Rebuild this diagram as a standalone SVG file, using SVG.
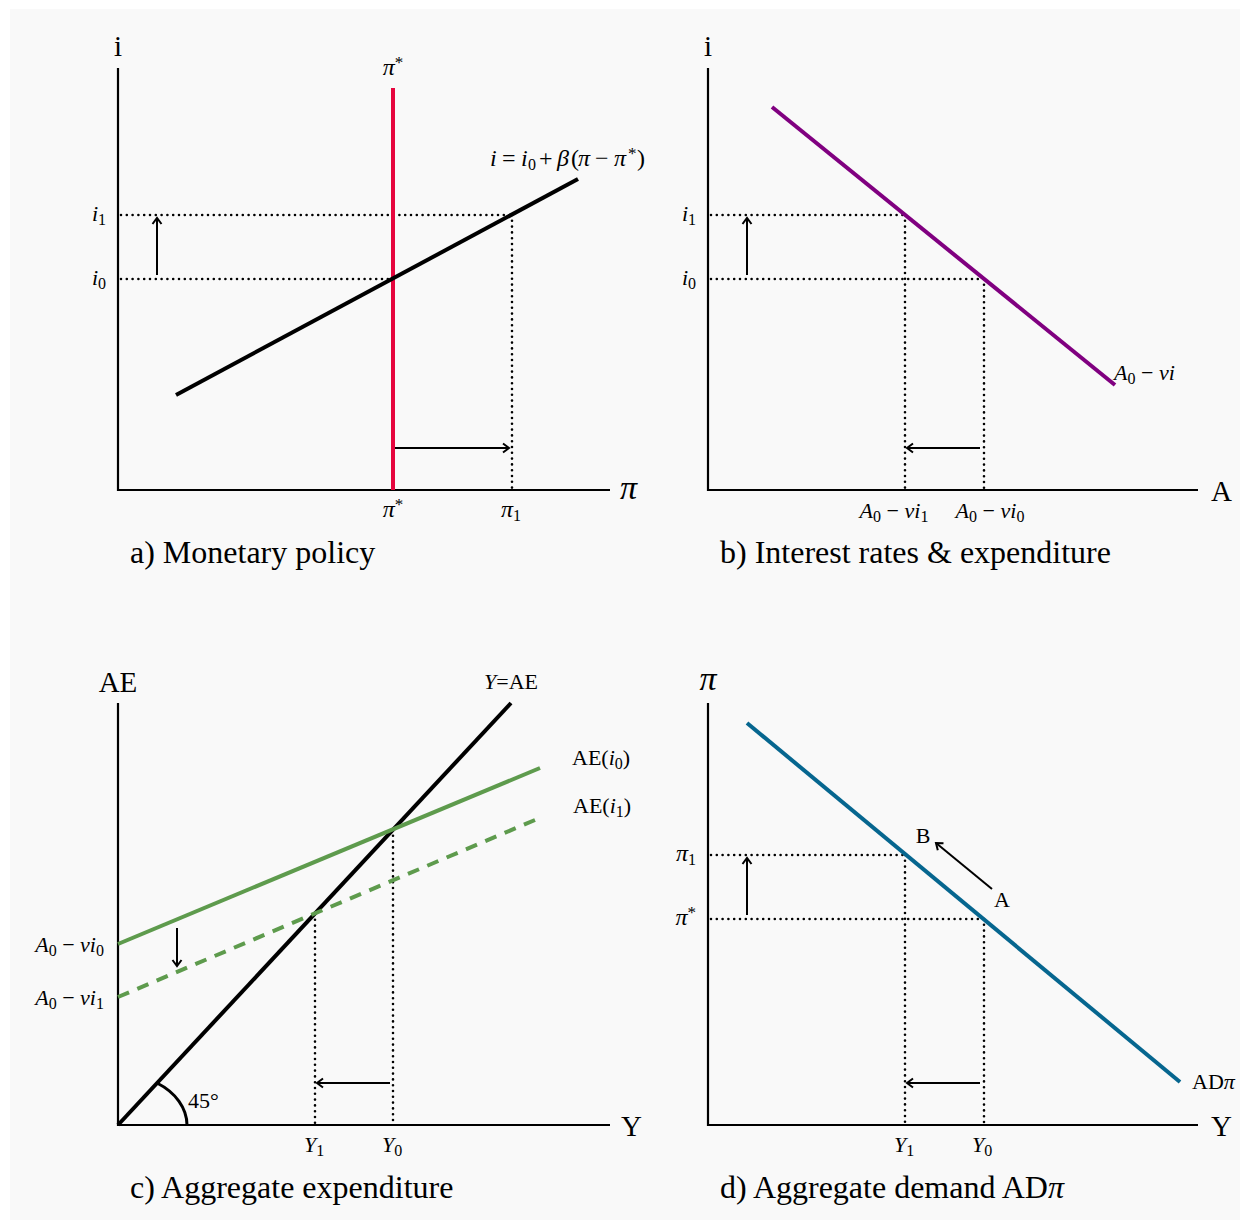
<svg xmlns="http://www.w3.org/2000/svg" width="1248" height="1222" viewBox="0 0 1248 1222">
<style>
text{font-family:"Liberation Serif","Times New Roman",serif;fill:#000}
.ax{font-size:29px}
.cap{font-size:32px}
.tk{font-size:22px}
.it{font-style:italic}
.axis{stroke:#000;stroke-width:2.2;fill:none}
.dot{stroke:#000;stroke-width:2.6;fill:none;stroke-dasharray:0 5.8;stroke-linecap:round}
.arr{stroke:#000;stroke-width:2;fill:none;marker-end:url(#ah)}
.curve{stroke-width:4;fill:none}
</style>
<defs>
<marker id="ah" markerUnits="userSpaceOnUse" markerWidth="14" markerHeight="14" refX="9" refY="7" orient="auto">
<path d="M3,2.5 L9,7 L3,11.5" stroke="#000" stroke-width="2" fill="none"/>
</marker>
</defs>
<rect x="0" y="0" width="1248" height="1222" fill="#ffffff"/>
<rect x="10" y="9" width="1230" height="1211" fill="#f9f9f9"/>

<!-- Panel a -->
<g id="panel-a">
<g id="a-axes">
<line class="axis" x1="118" y1="68" x2="118" y2="491"/>
<line class="axis" x1="117" y1="490" x2="610" y2="490"/>
<text class="ax" x="118" y="56" text-anchor="middle">i</text>
<text class="it" font-size="34" x="620" y="499">π</text>
</g>
<g id="a-guides">
<line class="dot" x1="121" y1="215" x2="512" y2="215"/>
<line class="dot" x1="121" y1="279" x2="393" y2="279"/>
<line class="dot" x1="512" y1="215" x2="512" y2="488"/>
</g>
<g id="a-pistar-line"><line class="curve" stroke="#e6063e" x1="393" y1="88" x2="393" y2="490"/></g>
<g id="a-rule"><line class="curve" stroke="#000" x1="176" y1="395" x2="578" y2="179"/></g>
<g id="a-labels">
<text class="tk" x="393" y="75" text-anchor="middle"><tspan class="it" font-size="24">π</tspan><tspan font-size="17" dy="-7">*</tspan></text>
<text class="tk" x="393" y="517" text-anchor="middle"><tspan class="it" font-size="24">π</tspan><tspan font-size="17" dy="-7">*</tspan></text>
<text class="tk" x="511" y="517" text-anchor="middle"><tspan class="it" font-size="24">π</tspan><tspan font-size="16" dy="4">1</tspan></text>
<text class="tk" x="106" y="221" text-anchor="end"><tspan class="it">i</tspan><tspan font-size="16" dy="4">1</tspan></text>
<text class="tk" x="106" y="285" text-anchor="end"><tspan class="it">i</tspan><tspan font-size="16" dy="4">0</tspan></text>
<text font-size="24" y="166"><tspan class="it" x="490">i</tspan><tspan x="502">=</tspan><tspan class="it" x="521">i</tspan><tspan font-size="16" x="528" dy="4">0</tspan><tspan x="539" dy="-4">+</tspan><tspan class="it" x="557">β</tspan><tspan x="571">(</tspan><tspan class="it" x="578">π</tspan><tspan x="595">−</tspan><tspan class="it" x="614">π</tspan><tspan font-size="17" x="628" dy="-7">*</tspan><tspan x="637" dy="7">)</tspan></text>
<text class="cap" x="130" y="563">a) Monetary policy</text>
</g>
</g>

<!-- Panel b -->
<g id="panel-b">
<g id="b-axes">
<line class="axis" x1="708" y1="68" x2="708" y2="491"/>
<line class="axis" x1="707" y1="490" x2="1198" y2="490"/>
<text class="ax" x="708" y="56" text-anchor="middle">i</text>
<text class="ax" x="1211" y="501">A</text>
</g>
<g id="b-guides">
<line class="dot" x1="711" y1="215" x2="905" y2="215"/>
<line class="dot" x1="711" y1="279" x2="984" y2="279"/>
<line class="dot" x1="905" y1="215" x2="905" y2="488"/>
<line class="dot" x1="984" y1="279" x2="984" y2="488"/>
</g>
<g id="b-curve"><line class="curve" stroke="#800080" x1="772" y1="107" x2="1115" y2="385"/></g>
<g id="b-labels">
<text class="tk" x="696" y="221" text-anchor="end"><tspan class="it">i</tspan><tspan font-size="16" dy="4">1</tspan></text>
<text class="tk" x="696" y="285" text-anchor="end"><tspan class="it">i</tspan><tspan font-size="16" dy="4">0</tspan></text>
<text class="tk" x="1114" y="380"><tspan class="it">A</tspan><tspan font-size="16" dy="4">0</tspan><tspan dy="-4"> − </tspan><tspan class="it">vi</tspan></text>
<text class="tk" x="894" y="518" text-anchor="middle"><tspan class="it">A</tspan><tspan font-size="16" dy="4">0</tspan><tspan dy="-4"> − </tspan><tspan class="it">vi</tspan><tspan font-size="16" dy="4">1</tspan></text>
<text class="tk" x="990" y="518" text-anchor="middle"><tspan class="it">A</tspan><tspan font-size="16" dy="4">0</tspan><tspan dy="-4"> − </tspan><tspan class="it">vi</tspan><tspan font-size="16" dy="4">0</tspan></text>
<text class="cap" x="720" y="563">b) Interest rates &amp; expenditure</text>
</g>
</g>

<!-- Panel c -->
<g id="panel-c">
<g id="c-axes">
<line class="axis" x1="118" y1="703" x2="118" y2="1126"/>
<line class="axis" x1="117" y1="1125" x2="610" y2="1125"/>
<text class="ax" x="118" y="692" text-anchor="middle">AE</text>
<text class="ax" x="621" y="1136">Y</text>
</g>
<g id="c-guides">
<line class="dot" x1="315" y1="914" x2="315" y2="1123"/>
<line class="dot" x1="393" y1="830" x2="393" y2="1123"/>
</g>
<g id="c-curves">
<line class="curve" stroke="#000" x1="118" y1="1125" x2="511" y2="703"/>
<line class="curve" stroke="#5e9b4d" x1="118" y1="944" x2="540" y2="768"/>
<line class="curve" stroke="#5e9b4d" stroke-dasharray="12 9" x1="118" y1="997" x2="535" y2="820"/>
<path d="M187,1125 A69,51 0 0 0 157,1083" stroke="#000" stroke-width="3" fill="none"/>
</g>
<g id="c-labels">
<text class="tk" x="511" y="689" text-anchor="middle"><tspan class="it">Y</tspan>=AE</text>
<text class="tk" x="572" y="765">AE(<tspan class="it">i</tspan><tspan font-size="16" dy="4">0</tspan><tspan dy="-4">)</tspan></text>
<text class="tk" x="573" y="813">AE(<tspan class="it">i</tspan><tspan font-size="16" dy="4">1</tspan><tspan dy="-4">)</tspan></text>
<text class="tk" x="104" y="952" text-anchor="end"><tspan class="it">A</tspan><tspan font-size="16" dy="4">0</tspan><tspan dy="-4"> − </tspan><tspan class="it">vi</tspan><tspan font-size="16" dy="4">0</tspan></text>
<text class="tk" x="104" y="1005" text-anchor="end"><tspan class="it">A</tspan><tspan font-size="16" dy="4">0</tspan><tspan dy="-4"> − </tspan><tspan class="it">vi</tspan><tspan font-size="16" dy="4">1</tspan></text>
<text class="tk" x="188" y="1108">45°</text>
<text class="tk" x="314" y="1152" text-anchor="middle"><tspan class="it">Y</tspan><tspan font-size="16" dy="4">1</tspan></text>
<text class="tk" x="392" y="1152" text-anchor="middle"><tspan class="it">Y</tspan><tspan font-size="16" dy="4">0</tspan></text>
<text class="cap" x="130" y="1198">c) Aggregate expenditure</text>
</g>
</g>

<!-- Panel d -->
<g id="panel-d">
<g id="d-axes">
<line class="axis" x1="708" y1="703" x2="708" y2="1126"/>
<line class="axis" x1="707" y1="1125" x2="1198" y2="1125"/>
<text class="it" font-size="34" x="708" y="690" text-anchor="middle">π</text>
<text class="ax" x="1211" y="1136">Y</text>
</g>
<g id="d-guides">
<line class="dot" x1="711" y1="855" x2="905" y2="855"/>
<line class="dot" x1="711" y1="919" x2="984" y2="919"/>
<line class="dot" x1="905" y1="855" x2="905" y2="1123"/>
<line class="dot" x1="984" y1="919" x2="984" y2="1123"/>
</g>
<g id="d-curve"><line class="curve" stroke="#06668f" x1="747" y1="723" x2="1180" y2="1082"/></g>
<g id="d-labels">
<text class="tk" x="696" y="861" text-anchor="end"><tspan class="it" font-size="24">π</tspan><tspan font-size="16" dy="4">1</tspan></text>
<text class="tk" x="696" y="925" text-anchor="end"><tspan class="it" font-size="24">π</tspan><tspan font-size="17" dy="-7">*</tspan></text>
<text class="tk" x="923" y="843" text-anchor="middle">B</text>
<text class="tk" x="1002" y="907" text-anchor="middle">A</text>
<text class="tk" x="1192" y="1089">AD<tspan class="it">π</tspan></text>
<text class="tk" x="904" y="1152" text-anchor="middle"><tspan class="it">Y</tspan><tspan font-size="16" dy="4">1</tspan></text>
<text class="tk" x="982" y="1152" text-anchor="middle"><tspan class="it">Y</tspan><tspan font-size="16" dy="4">0</tspan></text>
<text class="cap" x="720" y="1198">d) Aggregate demand AD<tspan class="it">π</tspan></text>
</g>
</g>

<!-- Connectors (shift arrows) -->
<g id="connectors">
<line class="arr" x1="157" y1="275" x2="157" y2="218"/>
<line class="arr" x1="395" y1="448" x2="509" y2="448"/>
<line class="arr" x1="747" y1="275" x2="747" y2="218"/>
<line class="arr" x1="980" y1="448" x2="907" y2="448"/>
<line class="arr" x1="177" y1="928" x2="177" y2="966"/>
<line class="arr" x1="390" y1="1083" x2="317" y2="1083"/>
<line class="arr" x1="747" y1="915" x2="747" y2="858"/>
<line class="arr" x1="980" y1="1083" x2="907" y2="1083"/>
<line class="arr" x1="992" y1="889" x2="936" y2="843"/>
</g>
</svg>
